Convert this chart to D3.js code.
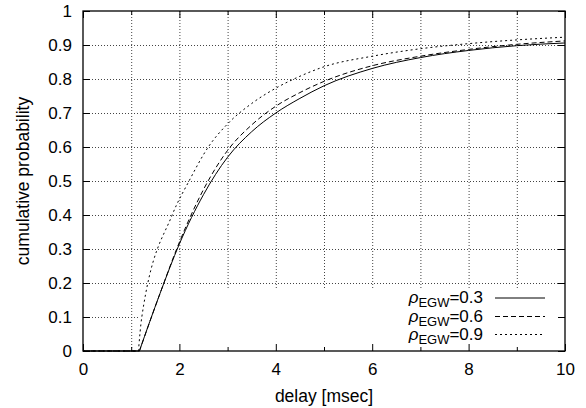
<!DOCTYPE html>
<html>
<head>
<meta charset="utf-8">
<script src="https://cdn.jsdelivr.net/npm/d3@7"></script>
<style>
  body { margin: 0; background: #fff; }
  svg { font-family: "Liberation Sans", Arial, sans-serif; }
</style>
</head>
<body>
<script>
var width = 586, height = 408;

// delay [msec] / cumulative probability
var rho03 = [[0, 0], [1.17, 0], [1.6, 0.17], [2.0, 0.315], [2.5, 0.46], [3, 0.57], [3.5, 0.645],
    [4, 0.70], [4.5, 0.743], [5, 0.78], [6, 0.831], [7, 0.863], [8, 0.884], [9, 0.898], [10, 0.906]];
var rho06 = [[0, 0], [1.17, 0], [1.6, 0.17], [2.0, 0.32], [2.5, 0.475], [3, 0.59], [3.5, 0.665],
    [4, 0.72], [4.5, 0.76], [5, 0.793], [6, 0.839], [7, 0.867], [8, 0.887], [9, 0.902], [10, 0.912]];
var rho09 = [[0, 0], [1.15, 0], [1.22, 0.1], [1.85, 0.4], [2.2, 0.5], [2.6, 0.6], [3, 0.668],
    [3.5, 0.728], [4, 0.773], [4.5, 0.808], [5, 0.836], [6, 0.867], [7, 0.889], [8, 0.904],
    [9, 0.915], [10, 0.923]];

var seriesLabels = ["0.3", "0.6", "0.9"];
var xTicks = [0, 2, 4, 6, 8, 10];
var xMinor = [1, 3, 5, 7, 9];
var yTicks = [0, 0.1, 0.2, 0.3, 0.4, 0.5, 0.6, 0.7, 0.8, 0.9, 1];

var x = d3.scaleLinear().domain([0, 10]).range([83, 565]);
var y = d3.scaleLinear().domain([0, 1]).range([351, 11]);

var svg = d3.select("body").append("svg")
    .attr("width", width)
    .attr("height", height);

// grid
var grid = svg.append("g")
    .attr("stroke", "#444")
    .attr("stroke-width", 1)
    .attr("stroke-dasharray", "1,2");

grid.selectAll(".gx")
    .data(d3.range(1, 10))
    .enter().append("line")
    .attr("x1", function (d) { return x(d) + 0.5; })
    .attr("x2", function (d) { return x(d) + 0.5; })
    .attr("y1", y(1))
    .attr("y2", y(0));

grid.selectAll(".gy")
    .data(yTicks.slice(1, 10))
    .enter().append("line")
    .attr("x1", x(0))
    .attr("x2", x(10))
    .attr("y1", function (d) { return Math.round(y(d)) + 0.5; })
    .attr("y2", function (d) { return Math.round(y(d)) + 0.5; });

// key area is cleared
svg.append("rect")
    .attr("x", 140)
    .attr("y", 288)
    .attr("width", x(10) - 140)
    .attr("height", y(0) - 288)
    .attr("fill", "#fff");

function fmtY(d) {
    return d === 0 || d === 1 ? String(d) : d.toFixed(1);
}

var fontSize = "17px";

svg.append("g")
    .attr("transform", "translate(0," + y(0) + ")")
    .call(d3.axisBottom(x).tickValues(xTicks).tickSize(-7).tickPadding(12));
svg.append("g")
    .attr("transform", "translate(0," + y(0) + ")")
    .call(d3.axisBottom(x).tickValues(xMinor).tickSize(-4).tickFormat(""));
svg.append("g")
    .attr("transform", "translate(0," + y(1) + ")")
    .call(d3.axisTop(x).tickValues(xTicks).tickSize(-7).tickFormat(""));
svg.append("g")
    .attr("transform", "translate(0," + y(1) + ")")
    .call(d3.axisTop(x).tickValues(xMinor).tickSize(-4).tickFormat(""));
svg.append("g")
    .attr("transform", "translate(" + x(0) + ",0)")
    .call(d3.axisLeft(y).tickValues(yTicks).tickSize(-7).tickPadding(11).tickFormat(fmtY));
svg.append("g")
    .attr("transform", "translate(" + x(10) + ",0)")
    .call(d3.axisRight(y).tickValues(yTicks).tickSize(-7).tickFormat(""));

svg.selectAll(".domain").remove();
svg.selectAll(".tick text")
    .attr("fill", "#000")
    .style("font-size", fontSize)
    .style("font-family", "Liberation Sans, Arial, sans-serif");
svg.selectAll(".tick line").attr("stroke", "#000");

// border
svg.append("rect")
    .attr("x", x(0))
    .attr("y", y(1))
    .attr("width", x(10) - x(0))
    .attr("height", y(0) - y(1))
    .attr("fill", "none")
    .attr("stroke", "#000")
    .attr("stroke-width", 1.3);

// curves: flat part straight, then a smooth rise from the corner
var flat = d3.line()
    .x(function (d) { return x(d[0]); })
    .y(function (d) { return y(d[1]); });
var smooth = d3.line()
    .x(function (d) { return x(d[0]); })
    .y(function (d) { return y(d[1]); })
    .curve(d3.curveMonotoneX);

var dashes = [null, "5,3", "2,3"];
var series = [rho03, rho06, rho09];

series.forEach(function (s, i) {
    var d = flat(s.slice(0, 2)) + smooth(s.slice(1)).replace(/^M/, "L");
    svg.append("path")
        .attr("d", d)
        .attr("fill", "none")
        .attr("stroke", "#000")
        .attr("stroke-width", 1)
        .attr("stroke-dasharray", dashes[i]);
});

// legend
var legendY = [298, 316.5, 334.5];
var key = svg.append("g");
seriesLabels.forEach(function (lab, i) {
    var t = key.append("text")
        .attr("x", 483)
        .attr("y", legendY[i] + 5)
        .attr("text-anchor", "end")
        .style("font-size", fontSize);
    t.append("tspan").style("font-style", "italic").style("font-size", "17px").text("ρ");
    t.append("tspan").attr("dy", 4).style("font-size", "13px").text("EGW");
    t.append("tspan").attr("dy", -4).text("=" + lab);

    key.append("line")
        .attr("x1", 495)
        .attr("x2", 545)
        .attr("y1", legendY[i])
        .attr("y2", legendY[i])
        .attr("stroke", "#000")
        .attr("stroke-width", 1)
        .attr("stroke-dasharray", dashes[i]);
});

// axis titles
svg.append("text")
    .attr("x", x(5))
    .attr("y", 402)
    .attr("text-anchor", "middle")
    .style("font-size", "17.5px")
    .text("delay [msec]");

svg.append("text")
    .attr("transform", "translate(29," + y(0.5) + ") rotate(-90)")
    .attr("text-anchor", "middle")
    .style("font-size", "17.5px")
    .text("cumulative probability");
</script>
</body>
</html>
